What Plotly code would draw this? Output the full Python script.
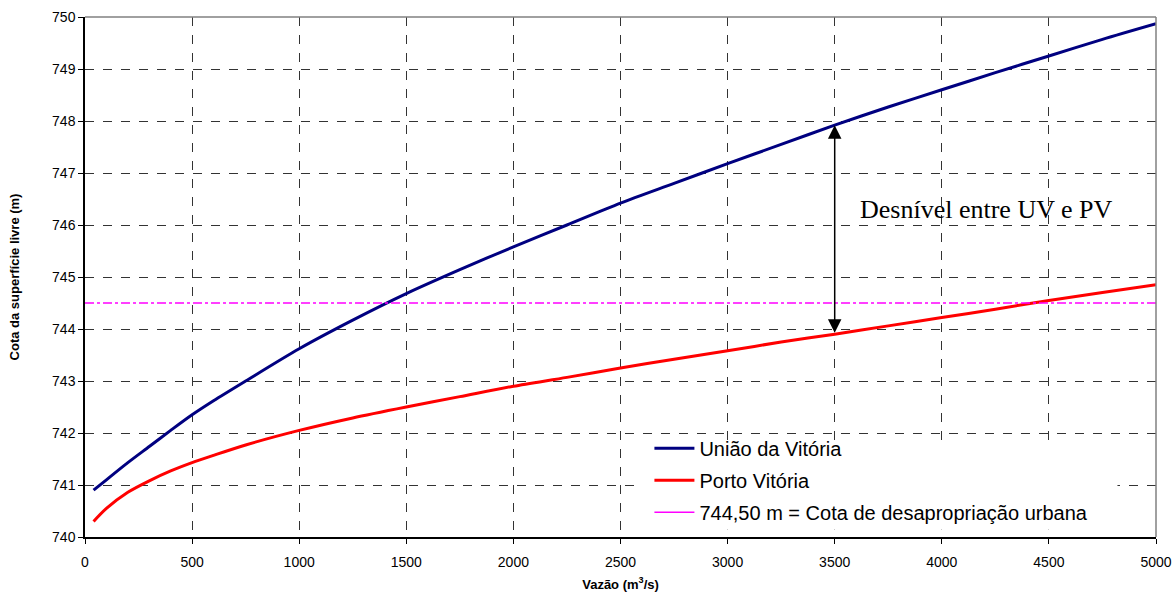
import plotly.graph_objects as go

vazao = [40, 100, 200, 300, 400, 500, 600, 750, 1000, 1250, 1500, 1750, 2000,
         2250, 2500, 2750, 3000, 3250, 3500, 3750, 4000, 4250, 4500, 4750, 5000]
uniao_vitoria = [740.9, 741.1, 741.43, 741.74, 742.05, 742.35, 742.62, 743.0, 743.62,
                 744.17, 744.68, 745.14, 745.58, 746.0, 746.42, 746.8, 747.18,
                 747.55, 747.92, 748.27, 748.6, 748.93, 749.25, 749.57, 749.87]
porto_vitoria = [740.3, 740.55, 740.86, 741.08, 741.27, 741.43, 741.57, 741.77, 742.05,
                 742.29, 742.5, 742.7, 742.9, 743.07, 743.25, 743.42, 743.58, 743.75,
                 743.9, 744.06, 744.22, 744.38, 744.55, 744.7, 744.85]
cota_desapropriacao = 744.50
x_limits = [0, 5000]
arrow_x = 3500
arrow_top = 747.92
arrow_bottom = 743.9
cota_label = "744,50 m = Cota de desapropriação urbana"

fig = go.Figure()
fig.add_trace(go.Scatter(x=vazao, y=uniao_vitoria, mode="lines", name="União da Vitória",
                         legendgroup="uv",
                         line=dict(color="#000080", width=3, shape="spline", smoothing=0.8)))
fig.add_trace(go.Scatter(x=vazao, y=porto_vitoria, mode="lines", name="Porto Vitória",
                         legendgroup="pv",
                         line=dict(color="#FF0000", width=3, shape="spline", smoothing=0.8)))
fig.add_trace(go.Scatter(x=x_limits, y=[cota_desapropriacao] * 2, mode="lines",
                         name=cota_label, legendgroup="cota", showlegend=False,
                         line=dict(color="#FF00FF", width=1.5, dash="dashdot")))
# legend entry (solid sample as in the original)
fig.add_trace(go.Scatter(x=[None], y=[None], mode="lines", name=cota_label,
                         legendgroup="cota", line=dict(color="#FF00FF", width=1.5)))

fig.add_annotation(x=arrow_x, y=arrow_top, ax=arrow_x, ay=arrow_bottom,
                   xref="x", yref="y", axref="x", ayref="y", text="",
                   showarrow=True, arrowhead=2, arrowside="end+start",
                   arrowsize=1.8, arrowwidth=1.5, arrowcolor="black",
                   standoff=0, startstandoff=0)
fig.add_annotation(x=4206, y=746.29, xref="x", yref="y", text="Desnível entre UV e PV",
                   showarrow=False, font=dict(family="Liberation Serif, Times New Roman, serif",
                                              size=26, color="black"))

axis_common = dict(showgrid=True, gridcolor="#333333", griddash="dash", gridwidth=1,
                   showline=True, linecolor="black", linewidth=1.5, ticks="outside",
                   ticklen=5, tickcolor="black", zeroline=False, mirror=False,
                   automargin=False,
                   tickfont=dict(family="Liberation Sans, Arial", size=14, color="black"))

fig.update_xaxes(range=x_limits, dtick=500, tick0=0, ticklabelstandoff=6,
                 title=dict(text="<b>Vazão (m<sup>3</sup>/s)</b>", standoff=11,
                            font=dict(family="Liberation Sans, Arial", size=13, color="black")),
                 **axis_common)
fig.update_yaxes(range=[740, 750], dtick=1,
                 title=dict(text="<b>Cota da superfície livre (m)</b>", standoff=30,
                            font=dict(family="Liberation Sans, Arial", size=13, color="black")),
                 **axis_common)

# gray frame on top and right
fig.add_shape(type="line", xref="paper", yref="paper", x0=0, x1=1, y0=1, y1=1,
              line=dict(color="#808080", width=1.5))
fig.add_shape(type="line", xref="paper", yref="paper", x0=1, x1=1, y0=0, y1=1,
              line=dict(color="#808080", width=1.5))
# white legend backdrop hiding gridlines
fig.add_shape(type="rect", xref="paper", yref="paper", x0=0.518, x1=0.964, y0=0.014, y1=0.186,
              fillcolor="white", line=dict(width=0), layer="above")

fig.update_layout(
    width=1174, height=601,
    margin=dict(l=85, r=18, t=17, b=64),
    plot_bgcolor="white", paper_bgcolor="white",
    showlegend=True,
    legend=dict(x=0.527, y=0.208, xanchor="left", yanchor="top", bgcolor="rgba(0,0,0,0)",
                borderwidth=0, font=dict(family="Liberation Sans, Arial", size=20, color="black"),
                tracegroupgap=3, itemwidth=40),
)

fig.write_html("out.html")
